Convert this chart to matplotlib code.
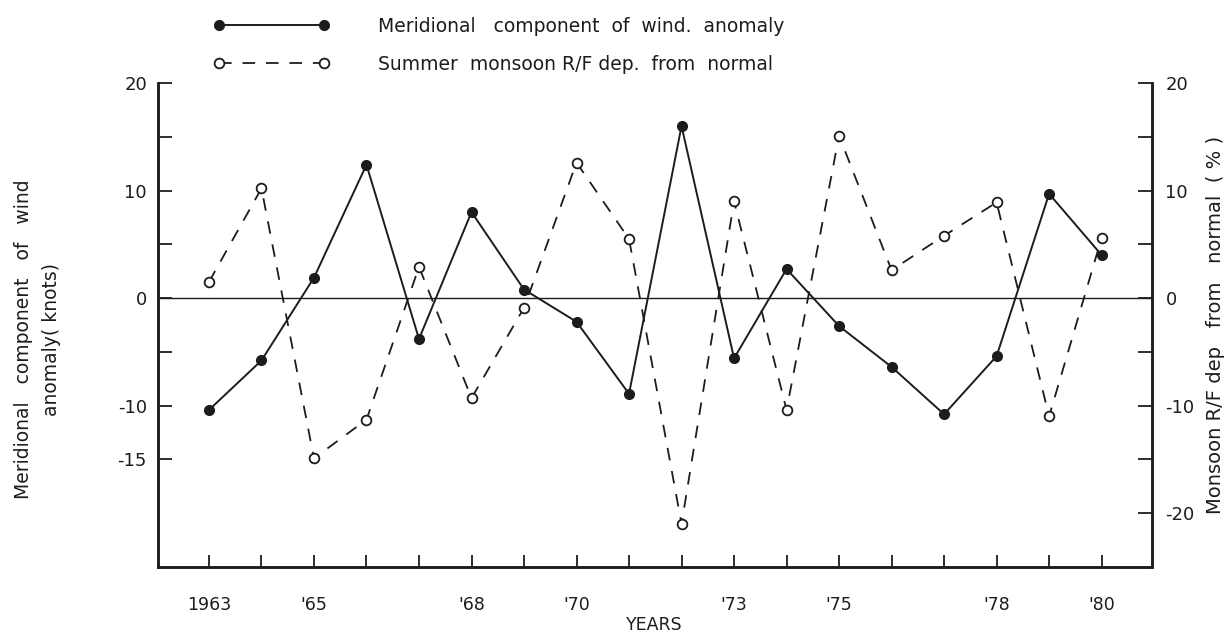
import numpy as np
import matplotlib
matplotlib.use("Agg")
import matplotlib.pyplot as plt

plt.rcParams['font.family'] = ['DejaVu Sans']

# years 1963 .. 1980
years = np.arange(1963, 1981)

# meridional component of wind anomaly (knots), left axis, filled dots
wind = [-10.4, -5.8, 1.9, 12.4, -3.8, 8.0, 0.8, -2.2, -8.9, 16.0,
        -5.6, 2.7, -2.6, -6.4, -10.8, -5.4, 9.7, 4.0]

# summer monsoon rainfall departure from normal (%), right axis, open dots
rain = [1.5, 10.2, -14.9, -11.3, 2.9, -9.3, -0.9, 12.6, 5.5, -21.0,
        9.0, -10.4, 15.1, 2.6, 5.8, 8.9, -11.0, 5.6]

xtick_labels = {1963: '1963', 1965: "'65", 1968: "'68", 1970: "'70",
                1973: "'73", 1975: "'75", 1978: "'78", 1980: "'80"}
left_ticks = [20, 15, 10, 5, 0, -5, -10, -15]
left_labels = {20: '20', 10: '10', 0: '0', -10: '-10', -15: '-15'}
right_ticks = [20, 15, 10, 5, 0, -5, -10, -15, -20]
right_labels = {20: '20', 10: '10', 0: '0', -10: '-10', -20: '-20'}

ink = '#1c1c1c'

fig = plt.figure(figsize=(12.25, 6.36), dpi=100)
ax = fig.add_axes([0.129, 0.1085, 0.811, 0.761])
ax2 = ax.twinx()

ax.set_xlim(1962.03, 1980.95)
ax.set_ylim(-25, 20)
ax2.set_ylim(-25, 20)

ax.axhline(0, color=ink, lw=1.0)

l1, = ax.plot(years, wind, '-o', color=ink, lw=1.4, ms=7,
              mfc=ink, mec=ink, zorder=3,
              label='Meridional   component  of  wind.  anomaly')
l2, = ax2.plot(years, rain, '--o', color=ink, lw=1.3, ms=7,
               mfc='white', mec=ink, mew=1.3, dashes=(7, 6), zorder=3,
               label='Summer  monsoon R/F dep.  from  normal')

# spines
for a in (ax, ax2):
    a.spines['top'].set_visible(False)
    for s in ('left', 'right', 'bottom'):
        a.spines[s].set_linewidth(1.8)
        a.spines[s].set_color(ink)

ax.set_xticks(years)
ax.set_xticklabels([xtick_labels.get(y, '') for y in years])
ax.tick_params(axis='x', direction='in', length=9, width=1.3, pad=21,
               labelsize=12.5, colors=ink)

ax.set_yticks(left_ticks)
ax.set_yticklabels([left_labels.get(t, '') for t in left_ticks])
ax.tick_params(axis='y', direction='in', length=10, width=1.3, pad=8,
               labelsize=13, colors=ink)

ax2.set_yticks(right_ticks)
ax2.set_yticklabels([right_labels.get(t, '') for t in right_ticks])
ax2.tick_params(axis='y', direction='in', length=10, width=1.3, pad=10,
                labelsize=13, colors=ink)

ax.set_xlabel('YEARS', fontsize=12.5, color=ink, labelpad=1)
ax.set_ylabel('Meridional   component   of   wind\nanomaly( knots)',
              fontsize=13.5, color=ink, linespacing=1.6)
ax.yaxis.set_label_coords(-0.098, 0.47)
ax2.set_ylabel('Monsoon R/F dep   from   normal  ( % )', fontsize=14, color=ink)
ax2.yaxis.set_label_coords(1.055, 0.5)

fig.legend(handles=[l1, l2], loc='upper left', bbox_to_anchor=(0.16, 1.0),
           frameon=False, numpoints=2, handlelength=6.2, handletextpad=2.6,
           labelspacing=1.0, fontsize=13.5, labelcolor=ink)

fig.savefig('out.png', dpi=100)
